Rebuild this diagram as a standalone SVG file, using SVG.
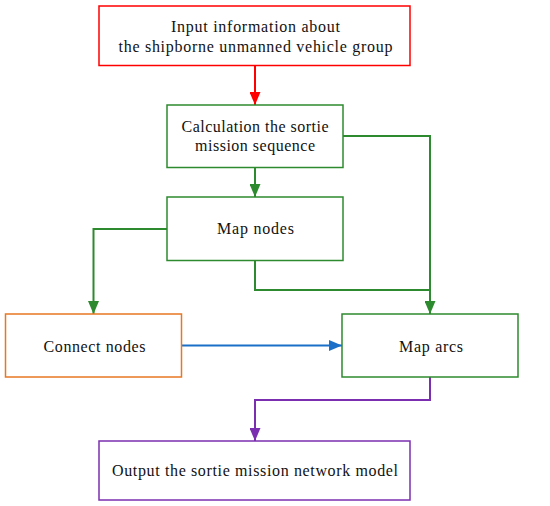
<svg xmlns="http://www.w3.org/2000/svg" width="550" height="506" viewBox="0 0 550 506">
<style>
text{font-size:16px;fill:#111;text-anchor:middle}
rect{fill:#fff;stroke-width:1.5}
.c{fill:none;stroke-width:2}
</style>
<defs>
<marker id="ar" viewBox="0 0 13 11" refX="13" refY="5.5" markerWidth="13" markerHeight="11" markerUnits="userSpaceOnUse" orient="auto"><path d="M0,0L13,5.5L0,11z" fill="#ff0000"/></marker>
<marker id="ag" viewBox="0 0 13 11" refX="13" refY="5.5" markerWidth="13" markerHeight="11" markerUnits="userSpaceOnUse" orient="auto"><path d="M0,0L13,5.5L0,11z" fill="#2e8a2e"/></marker>
<marker id="ab" viewBox="0 0 13 11" refX="13" refY="5.5" markerWidth="13" markerHeight="11" markerUnits="userSpaceOnUse" orient="auto"><path d="M0,0L13,5.5L0,11z" fill="#1a70c8"/></marker>
<marker id="ap" viewBox="0 0 13 11" refX="13" refY="5.5" markerWidth="13" markerHeight="11" markerUnits="userSpaceOnUse" orient="auto"><path d="M0,0L13,5.5L0,11z" fill="#7b2fb0"/></marker>
</defs>
<g id="connectors">
<path class="c" d="M255,66V105" stroke="#ff0000" marker-end="url(#ar)"/>
<path class="c" d="M255,168V197" stroke="#2e8a2e" marker-end="url(#ag)"/>
<path class="c" d="M343,136H430V314" stroke="#2e8a2e" marker-end="url(#ag)"/>
<path class="c" d="M167,229H93.5V314" stroke="#2e8a2e" marker-end="url(#ag)"/>
<path class="c" d="M255,261V290H430" stroke="#2e8a2e"/>
<path class="c" d="M182,345.5H342" stroke="#1a70c8" marker-end="url(#ab)"/>
<path class="c" d="M430,377V400H255V441" stroke="#7b2fb0" marker-end="url(#ap)"/>
</g>
<g font-family="Liberation Serif, Times New Roman, serif">
<g id="input"><rect x="99" y="6" width="311" height="59.5" stroke="#ff0000"/>
<text x="255.5" y="32" textLength="169">Input information about</text>
<text x="255.5" y="52" textLength="274">the shipborne unmanned vehicle group</text></g>
<g id="calc"><rect x="167" y="105" width="176" height="62.5" stroke="#2e8a2e"/>
<text x="255" y="132" textLength="147">Calculation the sortie</text>
<text x="255" y="151" textLength="120">mission sequence</text></g>
<g id="mapnodes"><rect x="167" y="197" width="176" height="63.5" stroke="#2e8a2e"/>
<text x="255.5" y="234" textLength="77">Map nodes</text></g>
<g id="connect"><rect x="5.5" y="314" width="176" height="63" stroke="#e87722"/>
<text x="94.5" y="352" textLength="102">Connect nodes</text></g>
<g id="maparcs"><rect x="342" y="314" width="176" height="63" stroke="#2e8a2e"/>
<text x="431" y="352" textLength="64">Map arcs</text></g>
<g id="output"><rect x="99" y="441" width="311" height="59" stroke="#7b2fb0"/>
<text x="255" y="476" textLength="286">Output the sortie mission network model</text></g>
</g>
</svg>
